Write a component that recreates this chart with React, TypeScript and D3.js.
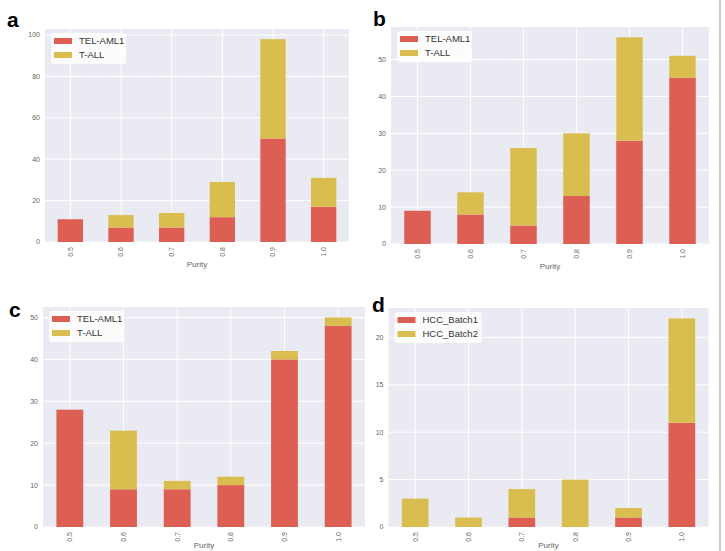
import React from 'react';
import * as d3 from 'd3';

const purity = ['0.5', '0.6', '0.7', '0.8', '0.9', '1.0'];

// panel a
const aTelAml1 = [11, 7, 7, 12, 50, 17];
const aTAll = [0, 6, 7, 17, 48, 14];
const aTicks = [0, 20, 40, 60, 80, 100];

// panel b
const bTelAml1 = [9, 8, 5, 13, 28, 45];
const bTAll = [0, 6, 21, 17, 28, 6];
const bTicks = [0, 10, 20, 30, 40, 50];

// panel c
const cTelAml1 = [28, 9, 9, 10, 40, 48];
const cTAll = [0, 14, 2, 2, 2, 2];
const cTicks = [0, 10, 20, 30, 40, 50];

// panel d
const dBatch1 = [0, 0, 1, 0, 1, 11];
const dBatch2 = [3, 1, 3, 5, 1, 11];
const dTicks = [0, 5, 10, 15, 20];

const RED = '#dd5f54';
const YELLOW = '#d9be4f';
const FONT = 'Liberation Sans, Arial, Helvetica, sans-serif';

type PanelProps = {
  letter: string;
  letterX: number;
  letterY: number;
  box: { left: number; right: number; top: number; bottom: number };
  names: [string, string];
  lower: number[];
  upper: number[];
  ticks: number[];
};

const Panel = ({ letter, letterX, letterY, box, names, lower, upper, ticks }: PanelProps) => {
  const totals = lower.map((v, i) => v + upper[i]);
  const y = d3.scaleLinear()
    .domain([0, d3.max(totals)! * 1.05])
    .range([box.bottom, box.top]);
  const x = d3.scaleBand()
    .domain(purity)
    .range([box.left, box.right])
    .paddingInner(0.5)
    .paddingOuter(0.25);

  const stack = d3.stack<number>()
    .keys(['0', '1'])
    .value((i, k) => (k === '0' ? lower[i] : upper[i]));
  const series = stack(d3.range(purity.length));
  const colors = [RED, YELLOW];

  const lx = box.left + 6;
  const ly = box.top + 4;

  return (
    <g>
      <text x={letterX} y={letterY} fontSize={21} fontWeight="bold" fontFamily={FONT} fill="#000">{letter}</text>
      <rect x={box.left} y={box.top} width={box.right - box.left} height={box.bottom - box.top} fill="#eaeaf2" />
      {ticks.map(t => (
        <line key={'h' + t} x1={box.left} x2={box.right} y1={y(t)} y2={y(t)} stroke="#fff" strokeWidth={1} />
      ))}
      {purity.map(p => (
        <line key={'v' + p} x1={x(p)! + x.bandwidth() / 2} x2={x(p)! + x.bandwidth() / 2}
          y1={box.top} y2={box.bottom} stroke="#fff" strokeWidth={1} />
      ))}
      {series.map((s, si) => s.map((d, i) => (
        d[1] > d[0] ? (
          <rect key={si + '-' + i} x={x(purity[i])} width={x.bandwidth()}
            y={y(d[1])} height={y(d[0]) - y(d[1])} fill={colors[si]} />
        ) : null
      )))}
      {ticks.map(t => (
        <text key={'yt' + t} x={box.left - 5} y={y(t)} dy="0.35em" textAnchor="end"
          fontSize={7} fontFamily={FONT} fill="#666">{t}</text>
      ))}
      {purity.map(p => (
        <text key={'xt' + p} transform={`translate(${x(p)! + x.bandwidth() / 2},${box.bottom + 5}) rotate(-90)`}
          dy="0.35em" textAnchor="end" fontSize={7} fontFamily={FONT} fill="#666">{p}</text>
      ))}
      <text x={(box.left + box.right) / 2} y={Math.min(box.bottom + 25, 548)} textAnchor="middle"
        fontSize={8} fontFamily={FONT} fill="#666">Purity</text>
      <rect x={lx} y={ly} width={names[0].length > 8 ? 87 : 75} height={31} rx={3}
        fill="#fff" fillOpacity={0.85} />
      {names.map((n, i) => (
        <g key={n}>
          <rect x={lx + 3} y={ly + 5 + i * 14} width={18} height={6} fill={colors[i]} />
          <text x={lx + 28} y={ly + 8 + i * 14} dy="0.35em" fontSize={9.5} fontFamily={FONT} fill="#333">{n}</text>
        </g>
      ))}
    </g>
  );
};

export default function App() {
  return (
    <svg width={725} height={551} style={{ position: 'absolute', left: 0, top: 0, background: '#fff' }}>
      <Panel letter="a" letterX={7} letterY={27} box={{ left: 45, right: 349, top: 29, bottom: 242 }}
        names={['TEL-AML1', 'T-ALL']} lower={aTelAml1} upper={aTAll} ticks={aTicks} />
      <Panel letter="b" letterX={373} letterY={26} box={{ left: 391, right: 709, top: 27, bottom: 244 }}
        names={['TEL-AML1', 'T-ALL']} lower={bTelAml1} upper={bTAll} ticks={bTicks} />
      <Panel letter="c" letterX={9} letterY={317} box={{ left: 43, right: 365, top: 307, bottom: 527 }}
        names={['TEL-AML1', 'T-ALL']} lower={cTelAml1} upper={cTAll} ticks={cTicks} />
      <Panel letter="d" letterX={372} letterY={312} box={{ left: 388.5, right: 708.5, top: 308, bottom: 527 }}
        names={['HCC_Batch1', 'HCC_Batch2']} lower={dBatch1} upper={dBatch2} ticks={dTicks} />
      <line x1={720} x2={720} y1={0} y2={551} stroke="#999" strokeWidth={1} />
    </svg>
  );
}
